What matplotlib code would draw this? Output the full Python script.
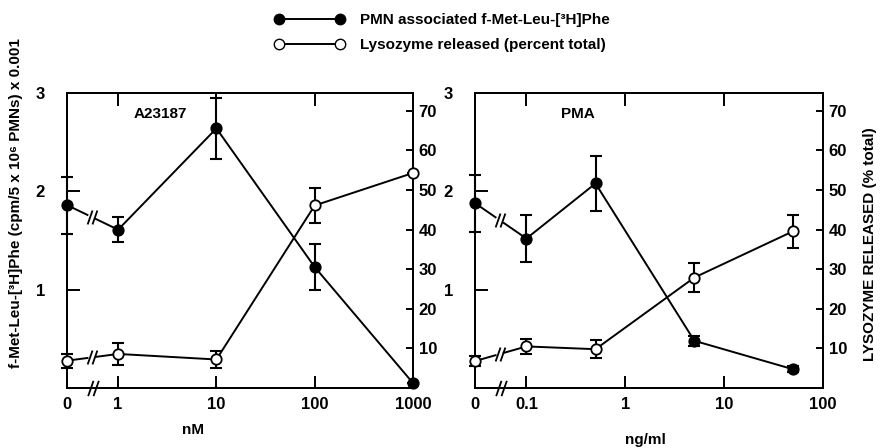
import numpy as np
import matplotlib
matplotlib.use("Agg")
import matplotlib.pyplot as plt
from matplotlib.path import Path
from matplotlib.lines import Line2D

plt.rcParams['font.family'] = ['Liberation Sans', 'DejaVu Sans']
plt.rcParams['font.weight'] = 'bold'

# A23187 panel (nM)
conc_a = np.array([0, 1, 10, 100, 1000])
pmn_a = np.array([1.86, 1.61, 2.64, 1.23, 0.05])
pmn_a_err = np.array([0.29, 0.125, 0.31, 0.23, 0.0])
lyso_a = np.array([6.9, 8.6, 7.2, 46.1, 54.3])
lyso_a_err = np.array([1.8, 2.7, 2.1, 4.5, 0.0])
xticks_a = [1, 10, 100]
xlabels_a = ['0', '1', '10', '100', '1000']

# PMA panel (ng/ml)
conc_p = np.array([0, 0.1, 0.5, 5, 50])
pmn_p = np.array([1.88, 1.52, 2.08, 0.48, 0.19])
pmn_p_err = np.array([0.29, 0.235, 0.28, 0.05, 0.03])
lyso_p = np.array([6.8, 10.5, 9.8, 27.9, 39.6])
lyso_p_err = np.array([1.3, 1.8, 2.2, 3.6, 4.2])
xticks_p = [0.1, 1, 10]
xlabels_p = ['0', '0.1', '1', '10', '100']

# double slash used for the axis / line breaks
slash = Path([(-0.7, -1), (0.0, 1), (0.0, -1), (0.7, 1)],
             [Path.MOVETO, Path.LINETO, Path.MOVETO, Path.LINETO])


def xpos(conc, first):
    # log10 position, zero sits half a decade left of first nonzero value
    zero = np.log10(first) - 0.52
    safe = np.where(conc > 0, conc, 1.0)
    return np.where(conc > 0, np.log10(safe), zero)


def series(ax, x, y, err, filled):
    fc = 'black' if filled else 'white'
    t0, t1 = 0.40, 0.56
    ax.plot([x[0], x[0] + t0 * (x[1] - x[0])], [y[0], y[0] + t0 * (y[1] - y[0])],
            color='black', lw=1.4, clip_on=False)
    ax.plot([x[0] + t1 * (x[1] - x[0]), x[1]], [y[0] + t1 * (y[1] - y[0]), y[1]],
            color='black', lw=1.4, clip_on=False)
    ax.plot(x[1:], y[1:], color='black', lw=1.4, clip_on=False)
    tm = (t0 + t1) / 2
    ax.plot([x[0] + tm * (x[1] - x[0])], [y[0] + tm * (y[1] - y[0])], marker=slash,
            ms=10, mew=1.3, color='black', ls='none', clip_on=False)
    ax.errorbar(x, y, yerr=err, fmt='none', ecolor='black', elinewidth=1.5,
                capsize=4.5, capthick=1.5, clip_on=False, zorder=3)
    ax.plot(x, y, 'o', ms=7.5, mfc=fc, mec='black', mew=1.3, clip_on=False, zorder=4)


def panel(rect, conc, first, pmn, pmn_err, lyso, lyso_err, ticks, labels, name,
          name_x, xlab, xlab_pos):
    ax = fig.add_axes(rect)
    x = xpos(conc, first)
    zero = x[0]
    top = np.log10(first) + 3
    ax.set_xlim(zero, top)
    ax.set_ylim(0, 3)
    ax2 = ax.twinx()
    ax2.set_ylim(0, 74.5)
    series(ax, x, pmn, pmn_err, True)
    series(ax2, x, lyso, lyso_err, False)
    for a in (ax, ax2):
        for s in a.spines.values():
            s.set_linewidth(1.4)
    ax.set_xticks(np.log10(ticks))
    ax.set_xticklabels([])
    ax.tick_params(axis='x', which='both', direction='in', length=9, width=1.4,
                   top=True, bottom=True)
    ax.set_yticks([1, 2, 3])
    ax.set_yticklabels(['1', '2', '3'], fontsize=12)
    ax.tick_params(axis='y', direction='in', length=9, width=1.4, pad=16)
    ax2.set_yticks(np.arange(10, 80, 10))
    ax2.set_yticklabels([str(v) for v in range(10, 80, 10)], fontsize=12)
    ax2.tick_params(axis='y', direction='in', length=5, width=1.4, pad=4)
    # tick labels along the bottom including 0 and the last decade
    lpos = [zero] + list(np.log10(ticks)) + [top]
    for p, lab in zip(lpos, labels):
        ax.text(p, -0.03, lab, transform=ax.get_xaxis_transform(), ha='center',
                va='top', fontsize=12)
    brk = (zero + np.log10(first)) / 2
    ax.plot([brk], [0], marker='s', ms=9, color='white', mec='white',
            transform=ax.get_xaxis_transform(), clip_on=False, zorder=5)
    ax.plot([brk], [0], marker=slash, ms=11, mew=1.3, color='black',
            transform=ax.get_xaxis_transform(), clip_on=False, zorder=6)
    ax.text(name_x, 0.93, name, transform=ax.transAxes, ha='center', va='center',
            fontsize=11)
    fig.text(xlab_pos[0], xlab_pos[1], xlab, ha='center', va='center', fontsize=11)
    return ax


fig = plt.figure(figsize=(8.81, 4.48), dpi=100)

panel([67 / 881, 60 / 448, 346 / 881, 295 / 448], conc_a, 1, pmn_a, pmn_a_err,
      lyso_a, lyso_a_err, xticks_a, xlabels_a, 'A23187', 0.27, 'nM',
      (193 / 881, 1 - 430 / 448))
panel([475 / 881, 60 / 448, 348 / 881, 295 / 448], conc_p, 0.1, pmn_p, pmn_p_err,
      lyso_p, lyso_p_err, xticks_p, xlabels_p, 'PMA', 0.295, 'ng/ml',
      (645 / 881, 1 - 440 / 448))

fig.text(16 / 881, 1 - 203 / 448, 'f-Met-Leu-[³H]Phe (cpm/5 x 10⁶ PMNs) x 0.001',
         rotation=90, ha='center', va='center', fontsize=11)
fig.text(870 / 881, 1 - 244 / 448, 'LYSOZYME RELEASED (% total)',
         rotation=90, ha='center', va='center', fontsize=11)

h1 = Line2D([], [], color='black', lw=1.4, marker='o', ms=7.5, mfc='black', mec='black')
h2 = Line2D([], [], color='black', lw=1.4, marker='o', ms=7.5, mfc='white', mec='black')
fig.legend([h1, h2], ['PMN associated f-Met-Leu-[³H]Phe', 'Lysozyme released (percent total)'],
           loc='upper left', bbox_to_anchor=(274 / 881, 1 - 13 / 448), frameon=False,
           numpoints=2, handlelength=4.6, handletextpad=1.0, labelspacing=0.75,
           borderpad=0, borderaxespad=0, fontsize=11)

fig.savefig('out.png', dpi=100)
